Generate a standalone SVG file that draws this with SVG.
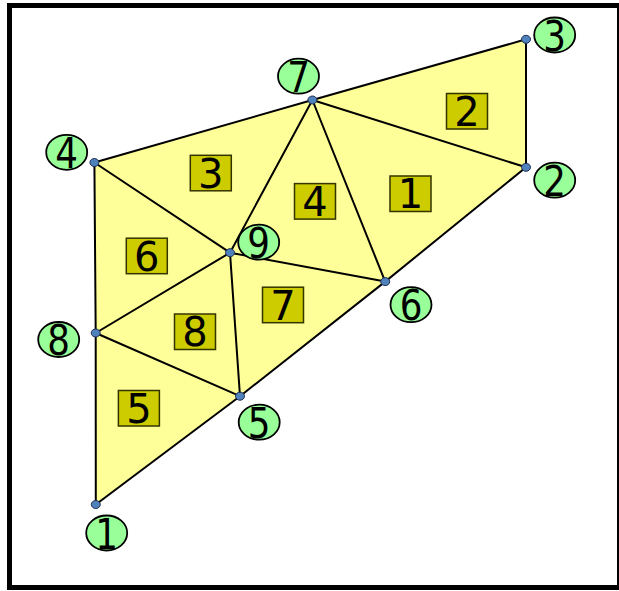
<svg xmlns="http://www.w3.org/2000/svg" width="619" height="591" viewBox="0 0 619 591">
<style>
.frame{fill:#ffffff;stroke:#000000;stroke-width:5}
.mesh{fill:#ffff99;stroke:none}
.edge{stroke:#000000;stroke-width:2;stroke-linecap:round}
.dot{fill:#4f81bd;stroke:#1f3050;stroke-width:1}
.nlab{fill:#99ff99;stroke:#000000;stroke-width:1.8}
.ebox{fill:#cccc00;stroke:#333300;stroke-width:1.5}
.txt{font-family:"DejaVu Sans","Verdana",sans-serif;font-size:40px;fill:#000000;text-anchor:middle}
.ntxt{font-family:"DejaVu Sans","Verdana",sans-serif;font-size:42px;fill:#000000;text-anchor:middle}
</style>
<rect class="frame" x="9.5" y="5.5" width="610" height="582"/>
<polygon class="mesh" points="95.8,504.5 95.7,333 94.4,162.5 312.4,100 526,39.3 526,167.3 385.2,281.6 240,396.2"/>
<g id="connectors">
<line class="edge" x1="95.8" y1="504.5" x2="95.7" y2="333"/>
<line class="edge" x1="95.7" y1="333" x2="94.4" y2="162.5"/>
<line class="edge" x1="94.4" y1="162.5" x2="312.4" y2="100"/>
<line class="edge" x1="312.4" y1="100" x2="526" y2="39.3"/>
<line class="edge" x1="526" y1="39.3" x2="526" y2="167.3"/>
<line class="edge" x1="526" y1="167.3" x2="385.2" y2="281.6"/>
<line class="edge" x1="385.2" y1="281.6" x2="240" y2="396.2"/>
<line class="edge" x1="240" y1="396.2" x2="95.8" y2="504.5"/>
<line class="edge" x1="94.4" y1="162.5" x2="230" y2="252.7"/>
<line class="edge" x1="230" y1="252.7" x2="312.4" y2="100"/>
<line class="edge" x1="312.4" y1="100" x2="385.2" y2="281.6"/>
<line class="edge" x1="312.4" y1="100" x2="526" y2="167.3"/>
<line class="edge" x1="230" y1="252.7" x2="385.2" y2="281.6"/>
<line class="edge" x1="230" y1="252.7" x2="95.7" y2="333"/>
<line class="edge" x1="230" y1="252.7" x2="240" y2="396.2"/>
<line class="edge" x1="95.7" y1="333" x2="240" y2="396.2"/>
</g>
<g id="element-1"><rect class="ebox" x="390" y="176" width="41" height="35.5"/><text class="txt" x="410.5" y="208.3">1</text></g>
<g id="element-2"><rect class="ebox" x="446.5" y="93.5" width="41" height="35.5"/><text class="txt" x="467" y="125.8">2</text></g>
<g id="element-3"><rect class="ebox" x="190.3" y="155.3" width="41" height="35.5"/><text class="txt" x="210.8" y="187.6">3</text></g>
<g id="element-4"><rect class="ebox" x="294.5" y="183.6" width="41" height="35.5"/><text class="txt" x="315" y="215.9">4</text></g>
<g id="element-5"><rect class="ebox" x="118.4" y="390.5" width="41" height="35.5"/><text class="txt" x="138.9" y="422.8">5</text></g>
<g id="element-6"><rect class="ebox" x="126.3" y="238.2" width="41" height="35.5"/><text class="txt" x="146.8" y="270.5">6</text></g>
<g id="element-7"><rect class="ebox" x="262.5" y="287.2" width="41" height="35.5"/><text class="txt" x="283" y="319.5">7</text></g>
<g id="element-8"><rect class="ebox" x="174.5" y="314" width="41" height="35.5"/><text class="txt" x="195" y="346.3">8</text></g>
<g id="node-1"><ellipse class="dot" cx="95.8" cy="504.5" rx="4.5" ry="4"/><ellipse class="nlab" cx="106.7" cy="533" rx="20.5" ry="17.5"/><text class="ntxt" transform="translate(106.7 548.5) scale(0.85 1)">1</text></g>
<g id="node-2"><ellipse class="dot" cx="526" cy="167.3" rx="4.5" ry="4"/><ellipse class="nlab" cx="554.7" cy="180.2" rx="20.5" ry="17.5"/><text class="ntxt" transform="translate(554.7 195.7) scale(0.85 1)">2</text></g>
<g id="node-3"><ellipse class="dot" cx="526" cy="39.3" rx="4.5" ry="4"/><ellipse class="nlab" cx="554.7" cy="35" rx="20.5" ry="17.5"/><text class="ntxt" transform="translate(554.7 50.5) scale(0.85 1)">3</text></g>
<g id="node-4"><ellipse class="dot" cx="94.4" cy="162.5" rx="4.5" ry="4"/><ellipse class="nlab" cx="66.7" cy="152.3" rx="20.5" ry="17.5"/><text class="ntxt" transform="translate(66.7 167.8) scale(0.85 1)">4</text></g>
<g id="node-5"><ellipse class="dot" cx="240" cy="396.2" rx="4.5" ry="4"/><ellipse class="nlab" cx="259.2" cy="422.2" rx="20.5" ry="17.5"/><text class="ntxt" transform="translate(259.2 437.7) scale(0.85 1)">5</text></g>
<g id="node-6"><ellipse class="dot" cx="385.2" cy="281.6" rx="4.5" ry="4"/><ellipse class="nlab" cx="411" cy="304.7" rx="20.5" ry="17.5"/><text class="ntxt" transform="translate(411 320.2) scale(0.85 1)">6</text></g>
<g id="node-7"><ellipse class="dot" cx="312.4" cy="100" rx="4.5" ry="4"/><ellipse class="nlab" cx="298.5" cy="76.2" rx="20.5" ry="17.5"/><text class="ntxt" transform="translate(298.5 91.7) scale(0.85 1)">7</text></g>
<g id="node-8"><ellipse class="dot" cx="95.7" cy="333" rx="4.5" ry="4"/><ellipse class="nlab" cx="58.7" cy="339.5" rx="20.5" ry="17.5"/><text class="ntxt" transform="translate(58.7 355) scale(0.85 1)">8</text></g>
<g id="node-9"><ellipse class="nlab" cx="258.7" cy="242.2" rx="20.5" ry="17.5"/><text class="ntxt" transform="translate(258.7 257.7) scale(0.85 1)">9</text><ellipse class="dot" cx="230" cy="252.7" rx="4.5" ry="4"/></g>
</svg>
